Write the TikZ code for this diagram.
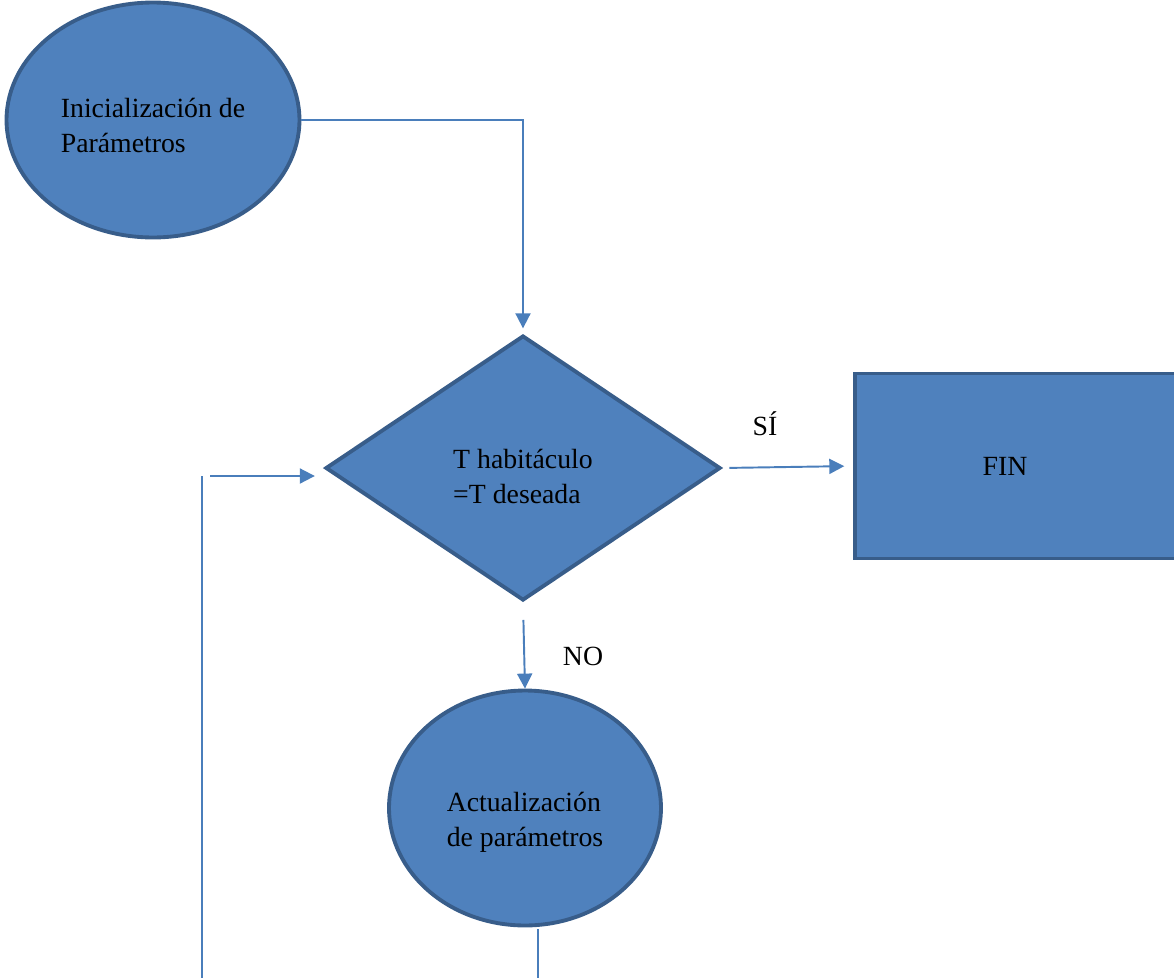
\documentclass[tikz,border=0pt]{standalone}
\usepackage{fontspec}
\setmainfont{Liberation Serif}
\usetikzlibrary{shapes.geometric,arrows.meta}
\definecolor{boxfill}{HTML}{4F81BD}
\definecolor{boxline}{HTML}{385D8A}
\definecolor{flowline}{HTML}{4A7EBB}
\tikzset{
  shape base/.style={fill=boxfill, draw=boxline, line width=2.2pt, inner sep=0pt, font=\fontsize{15.8}{19.8}\selectfont},
  ovalbox/.style={shape base, ellipse, align=left},
  testbox/.style={shape base, diamond, align=left},
  finbox/.style={shape base, rectangle},
  flow/.style={draw=flowline, line width=1.1pt, -{Triangle[length=0.3cm, width=0.3cm]}},
  plainflow/.style={draw=flowline, line width=1.1pt},
  tag/.style={font=\fontsize{15.8}{19.8}\selectfont}
}
\begin{document}
\begin{tikzpicture}[x=0.02cm, y=-0.02cm]
  \useasboundingbox (0,0) rectangle (1174,978);
  % shapes
  \node[ovalbox, minimum width=5.86cm, minimum height=4.7cm, text height=37pt] (init) at (153,120) {Inicialización de\\Parámetros};
  \node[testbox, minimum width=7.9cm, minimum height=5.3cm, text height=40pt] (dec) at (523,468) {T habitáculo\\=T deseada};
  \node[finbox, minimum width=6.8cm, minimum height=3.7cm,
        label={[tag, xshift=-0.4cm]center:FIN}] (fin) at (1025,466) {};
  \node[ovalbox, minimum width=5.44cm, minimum height=4.7cm, text height=47pt] (act) at (525,808) {Actualización\\de parámetros};
  % free ends of the loop
  \coordinate (loopin) at (210,476);
  \coordinate (looptop) at (202,476);
  \coordinate (loopbot) at (202,978);
  \coordinate (actend) at (538,978);
  % connectors
  \draw[flow, shorten >=3pt] (init.east) -| (dec.north);
  \draw[flow, shorten <=4pt, shorten >=5pt] (dec.east) -- (fin.west);
  \draw[flow, shorten <=10pt, shorten >=0pt] (dec.south) -- (act.north);
  \draw[plainflow, shorten <=1pt] (act.south -| actend) -- (actend);
  \draw[plainflow] (looptop) -- (loopbot);
  \draw[flow, shorten >=5pt] (loopin) -- (loopin -| dec.west);
  % labels
  \node[tag] (yes) at (765,424) {SÍ};
  \node[tag] (no) at (583,656) {NO};
\end{tikzpicture}
\end{document}
